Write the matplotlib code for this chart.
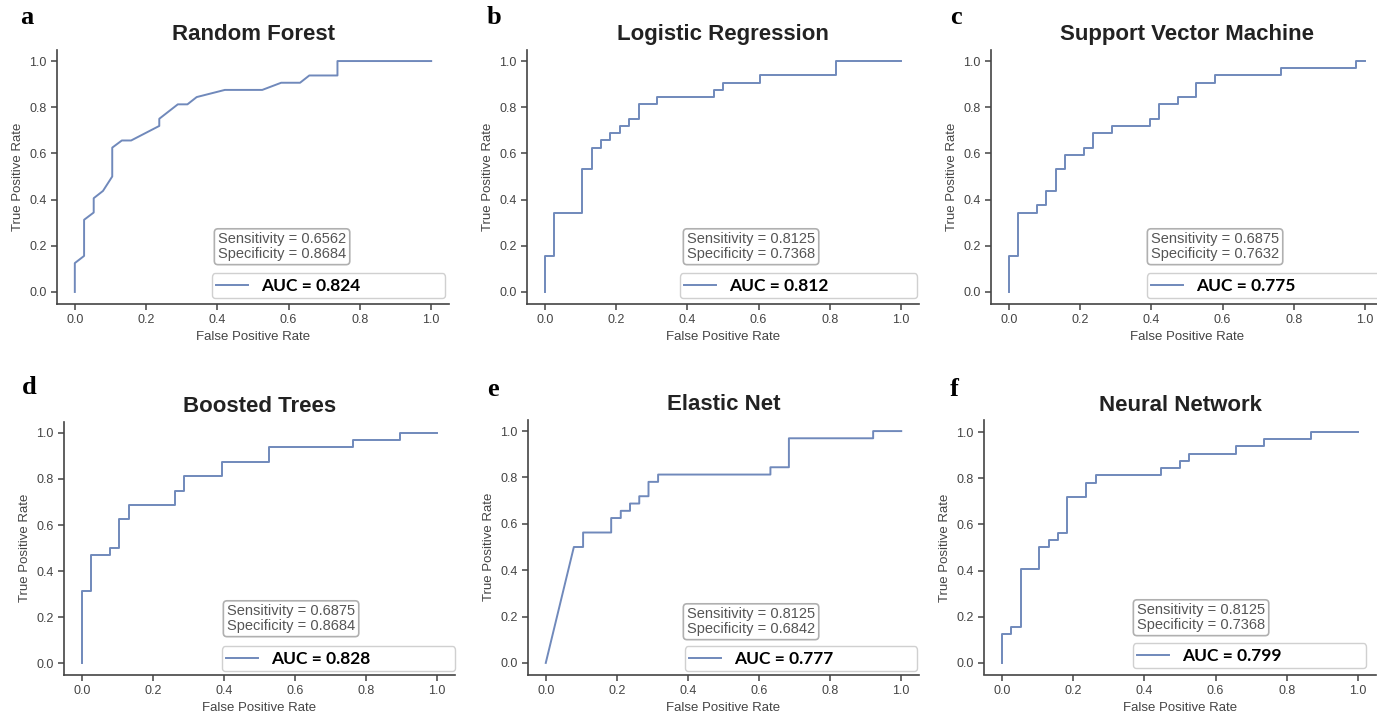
import matplotlib
matplotlib.use("Agg")
import matplotlib.pyplot as plt

plt.rcParams['font.family'] = ['Liberation Sans', 'DejaVu Sans']

# ROC curve corner points (fpr, tpr)
rf_fpr = [0, 0, 0.026, 0.026, 0.053, 0.053, 0.079, 0.105, 0.105, 0.132, 0.158, 0.237, 0.237,
          0.289, 0.316, 0.342, 0.421, 0.526, 0.579, 0.632, 0.658, 0.737, 0.737, 1.0]
rf_tpr = [0, 0.125, 0.156, 0.3125, 0.344, 0.406, 0.4375, 0.5, 0.625, 0.656, 0.656, 0.719, 0.75,
          0.8125, 0.8125, 0.844, 0.875, 0.875, 0.906, 0.906, 0.9375, 0.9375, 1.0, 1.0]

lr_fpr = [0, 0, 0.026, 0.026, 0.105, 0.105, 0.132, 0.132, 0.158, 0.158, 0.184, 0.184, 0.211, 0.211,
          0.237, 0.237, 0.263, 0.263, 0.316, 0.316, 0.474, 0.474, 0.5, 0.5, 0.605, 0.605, 0.816,
          0.816, 1.0]
lr_tpr = [0, 0.156, 0.156, 0.344, 0.344, 0.531, 0.531, 0.625, 0.625, 0.656, 0.656, 0.6875, 0.6875,
          0.719, 0.719, 0.75, 0.75, 0.8125, 0.8125, 0.844, 0.844, 0.875, 0.875, 0.906, 0.906,
          0.9375, 0.9375, 1.0, 1.0]

svm_fpr = [0, 0, 0.026, 0.026, 0.079, 0.079, 0.105, 0.105, 0.132, 0.132, 0.158, 0.158, 0.211, 0.211,
           0.237, 0.237, 0.289, 0.289, 0.395, 0.395, 0.421, 0.421, 0.474, 0.474, 0.526, 0.526,
           0.579, 0.579, 0.763, 0.763, 0.974, 0.974, 1.0]
svm_tpr = [0, 0.156, 0.156, 0.344, 0.344, 0.375, 0.375, 0.4375, 0.4375, 0.531, 0.531, 0.594, 0.594,
           0.625, 0.625, 0.6875, 0.6875, 0.719, 0.719, 0.75, 0.75, 0.8125, 0.8125, 0.844, 0.844,
           0.906, 0.906, 0.9375, 0.9375, 0.969, 0.969, 1.0, 1.0]

bt_fpr = [0, 0, 0.026, 0.026, 0.079, 0.079, 0.105, 0.105, 0.132, 0.132, 0.263, 0.263, 0.289, 0.289,
          0.395, 0.395, 0.526, 0.526, 0.763, 0.763, 0.895, 0.895, 1.0]
bt_tpr = [0, 0.3125, 0.3125, 0.469, 0.469, 0.5, 0.5, 0.625, 0.625, 0.6875, 0.6875, 0.75, 0.75,
          0.8125, 0.8125, 0.875, 0.875, 0.9375, 0.9375, 0.969, 0.969, 1.0, 1.0]

en_fpr = [0, 0.079, 0.105, 0.105, 0.184, 0.184, 0.211, 0.211, 0.237, 0.237, 0.263, 0.263, 0.289,
          0.289, 0.316, 0.316, 0.632, 0.632, 0.684, 0.684, 0.921, 0.921, 1.0]
en_tpr = [0, 0.5, 0.5, 0.5625, 0.5625, 0.625, 0.625, 0.656, 0.656, 0.6875, 0.6875, 0.719, 0.719,
          0.781, 0.781, 0.8125, 0.8125, 0.844, 0.844, 0.969, 0.969, 1.0, 1.0]

nn_fpr = [0, 0, 0.026, 0.026, 0.053, 0.053, 0.105, 0.105, 0.132, 0.132, 0.158, 0.158, 0.184, 0.184,
          0.237, 0.237, 0.263, 0.263, 0.447, 0.447, 0.5, 0.5, 0.526, 0.526, 0.658, 0.658, 0.737,
          0.737, 0.868, 0.868, 1.0]
nn_tpr = [0, 0.125, 0.125, 0.156, 0.156, 0.406, 0.406, 0.5, 0.5, 0.531, 0.531, 0.5625, 0.5625,
          0.719, 0.719, 0.781, 0.781, 0.8125, 0.8125, 0.844, 0.844, 0.875, 0.875, 0.906, 0.906,
          0.9375, 0.9375, 0.969, 0.969, 1.0, 1.0]

titles = ["Random Forest", "Logistic Regression", "Support Vector Machine",
          "Boosted Trees", "Elastic Net", "Neural Network"]
letters = ["a", "b", "c", "d", "e", "f"]
aucs = ["0.824", "0.812", "0.775", "0.828", "0.777", "0.799"]
sens = ["0.6562", "0.8125", "0.6875", "0.6875", "0.8125", "0.8125"]
spec = ["0.8684", "0.7368", "0.7632", "0.8684", "0.6842", "0.7368"]
curves = [(rf_fpr, rf_tpr), (lr_fpr, lr_tpr), (svm_fpr, svm_tpr),
          (bt_fpr, bt_tpr), (en_fpr, en_tpr), (nn_fpr, nn_tpr)]

W, H = 1377, 719
fig = plt.figure(figsize=(W / 100, H / 100), dpi=100)

# layout in pixels: axes (left, right, top, bottom), stats box (left, bottom),
# legend (left, right, top, bottom), letter (x, y)
ax_px = [(57, 449, 49.5, 303.5), (527, 919, 49.5, 303.5), (991, 1383, 49.5, 303.5),
         (64, 455, 421.5, 674.5), (528, 919, 419.5, 674.5), (984, 1376, 420.5, 674.5)]
box_px = [(218, 261), (687, 261), (1151, 261), (227, 633), (687, 636), (1137, 632)]
leg_px = [(212, 445, 270, 298), (680, 917, 271, 298), (1147, 1380, 270, 298),
          (222, 455, 645, 671), (685, 917, 645, 671), (1133, 1366, 641, 668)]
let_px = [(20, 18), (487, 18), (950, 18), (22, 388), (487, 390), (950, 390)]

line_color = "#7089bb"

for i in range(6):
    l, r, t, b = ax_px[i]
    ax = fig.add_axes([l / W, 1 - b / H, (r - l) / W, (b - t) / H])
    fpr, tpr = curves[i]
    ax.plot(fpr, tpr, color=line_color, lw=1.4, label="AUC = " + aucs[i])
    ax.set_xlim(-0.05, 1.05)
    ax.set_ylim(-0.05, 1.05)
    ax.set_xticks([0, 0.2, 0.4, 0.6, 0.8, 1.0])
    ax.set_yticks([0, 0.2, 0.4, 0.6, 0.8, 1.0])
    ax.spines["top"].set_visible(False)
    ax.spines["right"].set_visible(False)
    for s in ["left", "bottom"]:
        ax.spines[s].set_color("#444444")
        ax.spines[s].set_linewidth(1.2)
    ax.tick_params(labelsize=9, colors="#444444", length=4, width=1.1)
    ax.set_xlabel("False Positive Rate", fontsize=9.5, color="#444444", labelpad=4)
    ax.set_ylabel("True Positive Rate", fontsize=9.5, color="#444444", labelpad=4)
    ax.set_title(titles[i], fontsize=16, fontweight="bold", color="#222222", pad=7)

    bx, by = box_px[i]
    fig.text(bx / W, 1 - by / H, "Sensitivity = %s\nSpecificity = %s" % (sens[i], spec[i]),
             fontsize=10.5, color="#555555", ha="left", va="bottom", linespacing=1.05,
             bbox=dict(boxstyle="round,pad=0.25", fc="white", ec="#b0b0b0", lw=1.2))

    ll, lr_, lt, lb = leg_px[i]
    ax.legend(loc="lower left", mode="expand",
              bbox_to_anchor=(ll / W, 1 - lb / H, (lr_ - ll) / W, (lb - lt) / H),
              bbox_transform=fig.transFigure, borderaxespad=0, borderpad=0.25,
              handlelength=1.8, handletextpad=0.8, frameon=True, fancybox=True,
              framealpha=1, edgecolor="#d0d0d0",
              prop=dict(family="Lato", weight="bold", size=12.5))

    lx, ly = let_px[i]
    fig.text(lx / W, 1 - ly / H, letters[i], fontsize=19, fontweight="bold",
             family="Liberation Serif", ha="left", va="center")

fig.savefig("out.png", dpi=100)
